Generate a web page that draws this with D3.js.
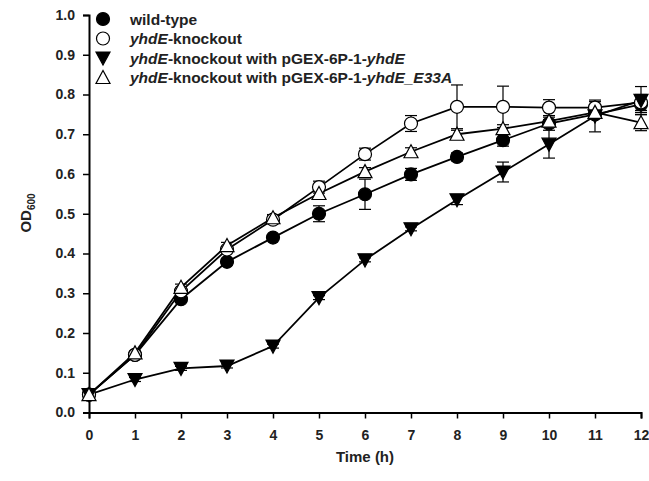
<!DOCTYPE html>
<html>
<head>
<meta charset="utf-8">
<script src="https://cdn.jsdelivr.net/npm/d3@7"></script>
<style>
  body { margin: 0; background: #fff; }
  svg text { font-family: "Liberation Sans", Arial, sans-serif; font-weight: bold; }
</style>
</head>
<body>
<div id="box"></div>
<script>
// time points (h)
var hours = [0, 1, 2, 3, 4, 5, 6, 7, 8, 9, 10, 11, 12];

// OD600 values
var wildType    = [0.045, 0.145, 0.285, 0.379, 0.440, 0.500, 0.549, 0.599, 0.643, 0.685, 0.727, 0.750, 0.775];
var wildTypeErr = [0.005, 0.005, 0.008, 0.008, 0.006, 0.020, 0.038, 0.015, 0.010, 0.015, 0.010, 0.010, 0.020];

var knockout    = [0.045, 0.145, 0.305, 0.410, 0.485, 0.567, 0.650, 0.727, 0.769, 0.769, 0.767, 0.767, 0.780];
var knockoutErr = [0.005, 0.005, 0.008, 0.008, 0.010, 0.015, 0.015, 0.020, 0.055, 0.052, 0.020, 0.015, 0.020];

var compl       = [0.045, 0.083, 0.111, 0.117, 0.167, 0.289, 0.384, 0.462, 0.535, 0.605, 0.675, 0.746, 0.785];
var complErr    = [0.005, 0.005, 0.005, 0.005, 0.005, 0.005, 0.005, 0.005, 0.012, 0.025, 0.035, 0.040, 0.035];

var mutant      = [0.045, 0.150, 0.315, 0.420, 0.490, 0.551, 0.606, 0.656, 0.700, 0.714, 0.733, 0.755, 0.729];
var mutantErr   = [0.005, 0.005, 0.008, 0.008, 0.008, 0.008, 0.010, 0.010, 0.010, 0.010, 0.010, 0.010, 0.020];

var xTicks = [0, 1, 2, 3, 4, 5, 6, 7, 8, 9, 10, 11, 12];
var yTicks = [0, 0.1, 0.2, 0.3, 0.4, 0.5, 0.6, 0.7, 0.8, 0.9, 1.0];

var series = [
    { parts: [["wild-type", false]], values: wildType, err: wildTypeErr, shape: "circle", fill: "#000" },
    { parts: [["yhdE", true], ["-knockout", false]], values: knockout, err: knockoutErr, shape: "circle", fill: "#fff" },
    { parts: [["yhdE", true], ["-knockout with pGEX-6P-1-", false], ["yhdE", true]], values: compl, err: complErr, shape: "down", fill: "#000" },
    { parts: [["yhdE", true], ["-knockout with pGEX-6P-1-", false], ["yhdE_E33A", true]], values: mutant, err: mutantErr, shape: "up", fill: "#fff" }
];

var width = 649, height = 481;
var svg = d3.select("#box").append("svg")
    .attr("width", width)
    .attr("height", height);

var x = d3.scaleLinear().domain([0, 12]).range([89, 641]);
var y = d3.scaleLinear().domain([0, 1]).range([412.5, 15]);

// axes
var xAxis = svg.append("g")
    .attr("transform", "translate(0," + y(0) + ")")
    .call(d3.axisBottom(x).tickValues(xTicks).tickSize(6).tickPadding(12).tickFormat(d3.format("d")));
var yAxis = svg.append("g")
    .attr("transform", "translate(" + x(0) + ",0)")
    .call(d3.axisLeft(y).tickValues(yTicks).tickSize(6).tickPadding(8).tickFormat(d3.format(".1f")));

[xAxis, yAxis].forEach(function(a) {
    a.select(".domain").attr("stroke", "#000").attr("stroke-width", 2);
    a.selectAll(".tick line").attr("stroke", "#000").attr("stroke-width", 1.5);
    a.selectAll(".tick text").attr("fill", "#222").attr("font-size", 14);
});

// axis titles
svg.append("text")
    .attr("x", (x(0) + x(12)) / 2)
    .attr("y", 462)
    .attr("text-anchor", "middle")
    .attr("font-size", 15)
    .attr("fill", "#222")
    .text("Time (h)");

var yl = svg.append("text")
    .attr("transform", "translate(31," + 213 + ") rotate(-90)")
    .attr("text-anchor", "middle")
    .attr("font-size", 15)
    .attr("fill", "#222");
yl.append("tspan").text("OD");
yl.append("tspan").attr("font-size", 10).attr("dy", 4).text("600");

function markerPath(shape) {
    if (shape == "down") return "M-7,-6L7,-6L0,7Z";
    if (shape == "up") return "M-7,6L7,6L0,-7Z";
    return null;
}

function drawMarker(g, shape, fill) {
    if (shape == "circle") {
        g.append("circle").attr("r", 6.5)
            .attr("fill", fill).attr("stroke", "#000").attr("stroke-width", 1.2);
    } else {
        g.append("path").attr("d", markerPath(shape))
            .attr("fill", fill).attr("stroke", "#000").attr("stroke-width", 1.2);
    }
}

var line = d3.line()
    .x(function(d, i) { return x(hours[i]); })
    .y(function(d) { return y(d); });

// error bars
series.forEach(function(s) {
    var eb = svg.append("g").attr("stroke", "#000").attr("stroke-width", 1.2);
    s.values.forEach(function(v, i) {
        var cx = x(hours[i]), top = y(v + s.err[i]), bot = y(v - s.err[i]);
        eb.append("line").attr("x1", cx).attr("x2", cx).attr("y1", top).attr("y2", bot);
        eb.append("line").attr("x1", cx - 6).attr("x2", cx + 6).attr("y1", top).attr("y2", top);
        eb.append("line").attr("x1", cx - 6).attr("x2", cx + 6).attr("y1", bot).attr("y2", bot);
    });
});

// lines
series.forEach(function(s) {
    svg.append("path")
        .datum(s.values)
        .attr("fill", "none")
        .attr("stroke", "#000")
        .attr("stroke-width", 1.8)
        .attr("d", line);
});

// markers
series.forEach(function(s) {
    s.values.forEach(function(v, i) {
        var g = svg.append("g").attr("transform", "translate(" + x(hours[i]) + "," + y(v) + ")");
        drawMarker(g, s.shape, s.fill);
    });
});

// legend
var legend = svg.append("g");
series.forEach(function(s, i) {
    var ly = 19 + i * 19.5;
    var g = legend.append("g").attr("transform", "translate(103," + ly + ")");
    drawMarker(g, s.shape, s.fill);
    var t = legend.append("text")
        .attr("x", 130)
        .attr("y", ly + 5.5)
        .attr("font-size", 15.5)
        .attr("fill", "#222");
    s.parts.forEach(function(p) {
        t.append("tspan").attr("font-style", p[1] ? "italic" : "normal").text(p[0]);
    });
});
</script>
</body>
</html>
